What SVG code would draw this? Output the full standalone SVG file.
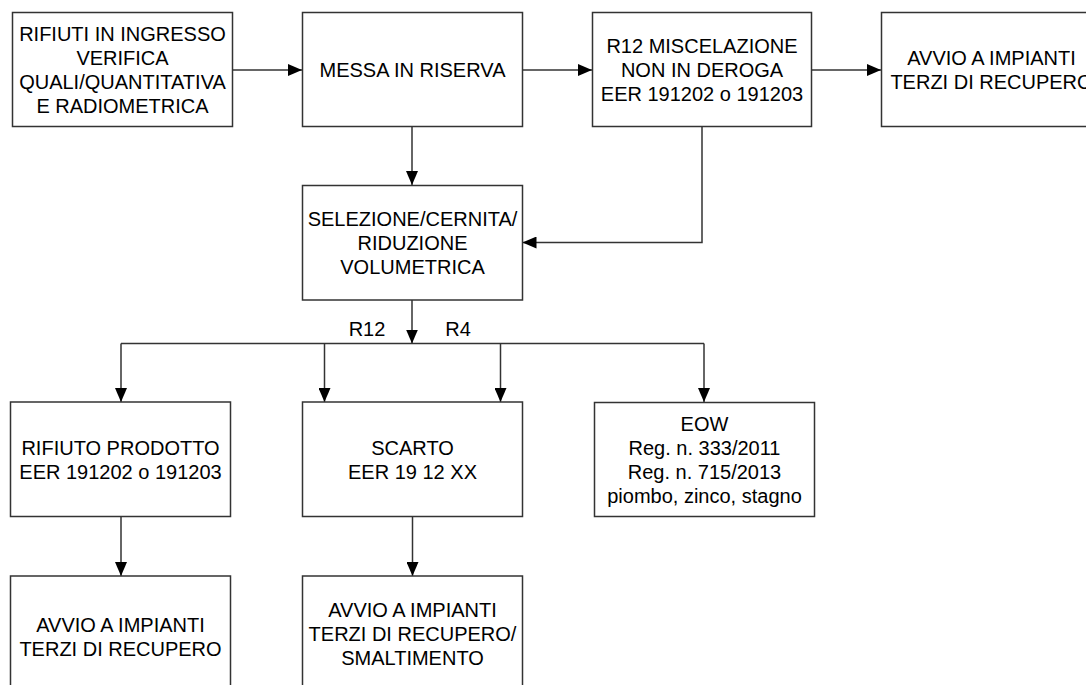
<svg xmlns="http://www.w3.org/2000/svg" width="1086" height="685" viewBox="0 0 1086 685">
<defs>
<marker id="ah" markerUnits="userSpaceOnUse" markerWidth="14" markerHeight="12" refX="14" refY="6" orient="auto">
<path d="M0,0 L14,6 L0,12 Z" fill="#000"/>
</marker>
<style>
.box{fill:#fff;stroke:#333;stroke-width:1.5}
.t{font-family:"Liberation Sans",Arial,sans-serif;font-size:20px;fill:#000;text-anchor:middle}
.c{fill:none;stroke:#333;stroke-width:1.5;marker-end:url(#ah)}
.l{fill:none;stroke:#333;stroke-width:1.5}
</style>
</defs>
<rect width="1086" height="685" fill="#fff"/>
<g id="connectors">
<path class="c" d="M232,70 H302"/>
<path class="c" d="M522.5,70 H592"/>
<path class="c" d="M812,70 H881"/>
<path class="c" d="M412,126.5 V185"/>
<path class="c" d="M702,126.5 V242.5 H522.5"/>
<path class="c" d="M412,300 V343.5"/>
<path class="l" d="M121,343.5 H704"/>
<path class="c" d="M121,343.5 V402"/>
<path class="c" d="M324.5,343.5 V402"/>
<path class="c" d="M500.5,343.5 V402"/>
<path class="c" d="M704,343.5 V402"/>
<path class="c" d="M121,516.5 V576"/>
<path class="c" d="M412.5,516.5 V576"/>
<text class="t" x="367" y="335.5">R12</text>
<text class="t" x="458" y="335.5">R4</text>
</g>
<g id="n1">
<rect class="box" x="12.5" y="12.5" width="220" height="114"/>
<text class="t" x="122.5" y="41">RIFIUTI IN INGRESSO</text>
<text class="t" x="122.5" y="65">VERIFICA</text>
<text class="t" x="122.5" y="89">QUALI/QUANTITATIVA</text>
<text class="t" x="122.5" y="113">E RADIOMETRICA</text>
</g>
<g id="n2">
<rect class="box" x="302.5" y="12.5" width="220" height="114"/>
<text class="t" x="412.5" y="77.3">MESSA IN RISERVA</text>
</g>
<g id="n3">
<rect class="box" x="592.5" y="12.5" width="219" height="114"/>
<text class="t" x="702" y="53">R12 MISCELAZIONE</text>
<text class="t" x="702" y="77">NON IN DEROGA</text>
<text class="t" x="702" y="101">EER 191202 o 191203</text>
</g>
<g id="n4">
<rect class="box" x="881.5" y="12.5" width="220" height="114"/>
<text class="t" x="991.5" y="65">AVVIO A IMPIANTI</text>
<text class="t" x="991.5" y="89">TERZI DI RECUPERO</text>
</g>
<g id="n5">
<rect class="box" x="302.5" y="185.5" width="220" height="114.5"/>
<text class="t" x="412.5" y="226">SELEZIONE/CERNITA/</text>
<text class="t" x="412.5" y="250">RIDUZIONE</text>
<text class="t" x="412.5" y="274">VOLUMETRICA</text>
</g>
<g id="n6">
<rect class="box" x="10.5" y="402" width="220" height="114.5"/>
<text class="t" x="120.5" y="455">RIFIUTO PRODOTTO</text>
<text class="t" x="120.5" y="479">EER 191202 o 191203</text>
</g>
<g id="n7">
<rect class="box" x="302.5" y="402" width="220" height="114.5"/>
<text class="t" x="412.5" y="455">SCARTO</text>
<text class="t" x="412.5" y="479">EER 19 12 XX</text>
</g>
<g id="n8">
<rect class="box" x="594.5" y="402.5" width="220" height="114"/>
<text class="t" x="704.5" y="431">EOW</text>
<text class="t" x="704.5" y="455">Reg. n. 333/2011</text>
<text class="t" x="704.5" y="479">Reg. n. 715/2013</text>
<text class="t" x="704.5" y="503">piombo, zinco, stagno</text>
</g>
<g id="n9">
<rect class="box" x="10.5" y="576" width="220" height="115"/>
<text class="t" x="120.5" y="632">AVVIO A IMPIANTI</text>
<text class="t" x="120.5" y="656">TERZI DI RECUPERO</text>
</g>
<g id="n10">
<rect class="box" x="302.5" y="576" width="220" height="115"/>
<text class="t" x="412.5" y="617">AVVIO A IMPIANTI</text>
<text class="t" x="412.5" y="641">TERZI DI RECUPERO/</text>
<text class="t" x="412.5" y="665">SMALTIMENTO</text>
</g>
</svg>
